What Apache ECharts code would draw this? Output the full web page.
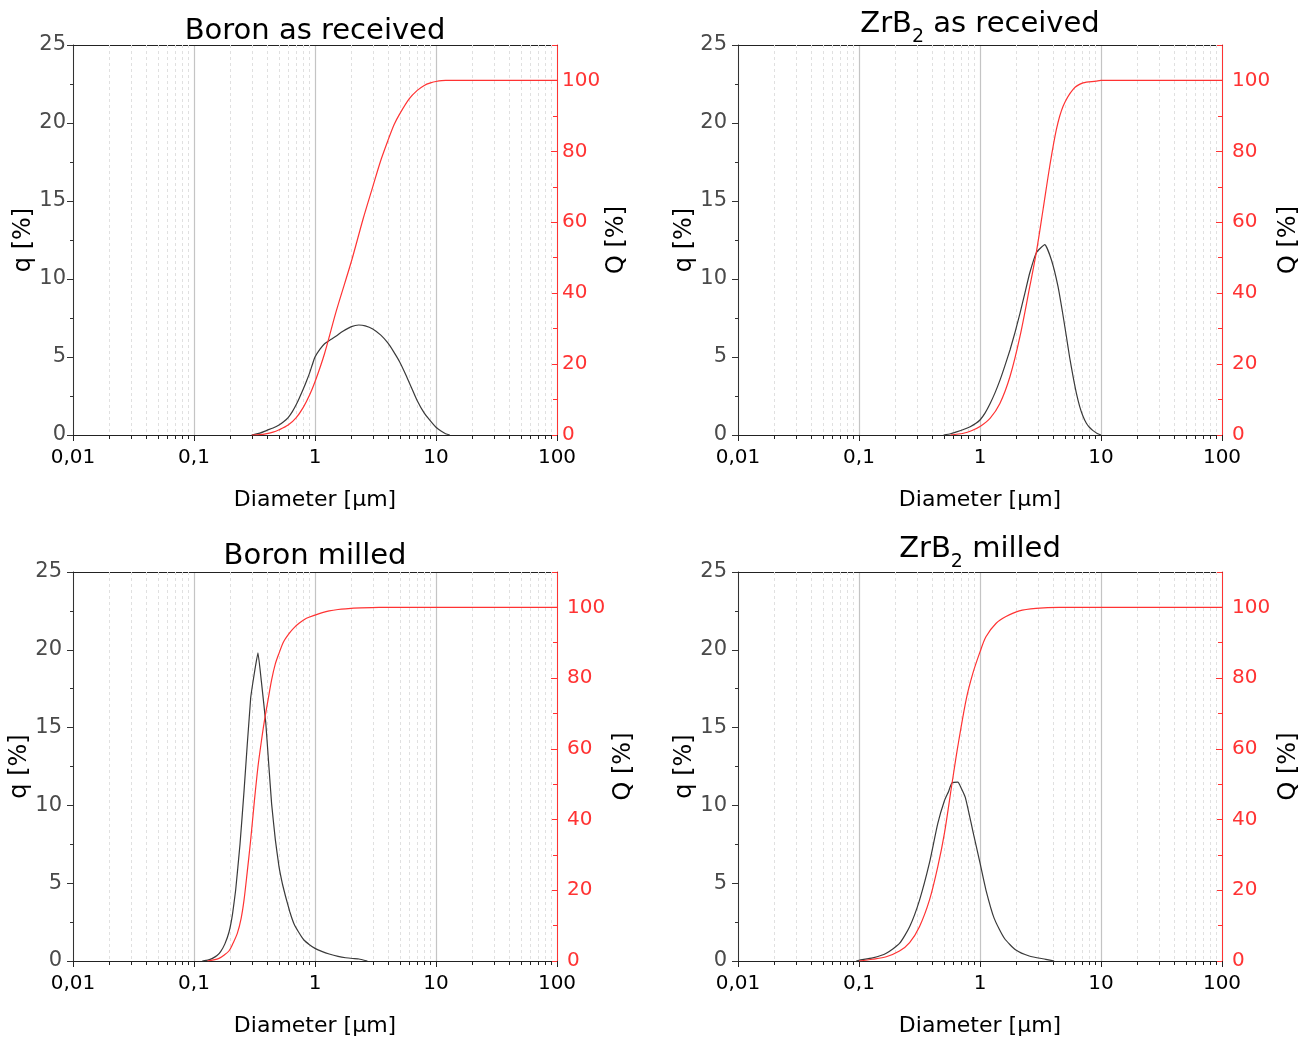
<!DOCTYPE html>
<html>
<head>
<meta charset="utf-8">
<script src="https://cdn.jsdelivr.net/npm/echarts@6/dist/echarts.min.js"></script>
<style>
html,body{margin:0;padding:0;background:#fff;}
#chart{width:1304px;height:1040px;}
</style>
</head>
<body>
<div id="chart"></div>
<script>
// ---------- data ----------
const xTickLabels = ['0,01', '0,1', '1', '10', '100'];
const minorTickValues = [0.02,0.03,0.04,0.05,0.06,0.07,0.08,0.09,
  0.2,0.3,0.4,0.5,0.6,0.7,0.8,0.9, 2,3,4,5,6,7,8,9, 20,30,40,50,60,70,80,90];

const titles = ['Boron as received', '{m|ZrB}{s|2}{m| as received}', 'Boron milled', '{m|ZrB}{s|2}{m| milled}'];

// Boron as received
const diamQd1 = [0.3,0.35,0.4,0.45,0.5,0.55,0.6,0.65,0.7,0.75,0.8,0.85,0.9,0.95,1.0,1.1,1.2,1.35,1.5,1.7,2.0,2.3,2.6,3.0,3.5,4.0,4.5,5.0,5.6,6.3,7.0,8.0,9.0,10,11,12,13];
const q1      = [0,0.12,0.3,0.45,0.62,0.85,1.12,1.5,1.95,2.45,2.95,3.45,3.95,4.5,5.0,5.5,5.85,6.12,6.35,6.65,6.95,7.05,7.0,6.8,6.4,5.9,5.3,4.7,3.9,3.0,2.2,1.4,0.9,0.5,0.25,0.08,0];
const diamQ1  = [0.3,0.35,0.4,0.45,0.5,0.6,0.7,0.8,0.9,1.0,1.2,1.5,2.0,2.5,3.0,3.5,4.0,4.5,5.0,6.0,7.0,8.0,9.0,10,12,15,100];
const Q1      = [0,0.1,0.4,0.8,1.4,2.8,4.9,7.8,11.2,15,23,35,49,61,70,77.5,83,87.5,90.5,94.8,97.2,98.6,99.3,99.7,100,100,100];

// ZrB2 as received
const diamQd2 = [0.5,0.57,0.64,0.73,0.83,0.92,1.0,1.1,1.21,1.33,1.46,1.6,1.77,1.95,2.14,2.35,2.58,2.93,3.43,3.9,4.42,4.8,5.18,5.5,5.88,6.25,6.67,7.1,7.57,8.05,8.59,9.3,10];
const q2      = [0,0.08,0.2,0.35,0.53,0.73,0.96,1.4,2.0,2.7,3.5,4.4,5.45,6.6,7.8,9.1,10.4,11.7,12.2,11.2,9.5,7.9,6.3,5.0,3.74,2.7,1.82,1.2,0.75,0.48,0.28,0.1,0];
const diamQ2  = [0.57,0.73,0.85,1.0,1.21,1.46,1.77,2.14,2.58,2.93,3.32,3.77,4.28,4.86,5.88,7.1,9.1,10,100];
const Q2      = [0,0.5,1.2,2.4,4.7,8.9,16.5,27.8,41.9,51.8,63.6,75.8,86.2,92.7,97.5,99.3,99.8,100,100];

// Boron milled
const diamQd3 = [0.117,0.13,0.142,0.155,0.166,0.18,0.195,0.208,0.221,0.24,0.259,0.294,0.338,0.36,0.392,0.415,0.438,0.47,0.504,0.54,0.572,0.62,0.67,0.74,0.81,0.9,1.0,1.15,1.31,1.55,1.79,2.05,2.31,2.71];
const q3      = [0,0.06,0.17,0.35,0.6,1.1,1.88,3.0,4.56,7.5,10.9,16.9,19.8,18.0,15.3,12.6,10.1,7.8,6.06,4.9,4.13,3.15,2.4,1.8,1.35,1.05,0.81,0.6,0.45,0.3,0.21,0.16,0.13,0];
const diamQ3  = [0.129,0.145,0.161,0.178,0.195,0.21,0.228,0.245,0.259,0.275,0.294,0.315,0.338,0.36,0.379,0.41,0.438,0.47,0.504,0.55,0.61,0.67,0.738,0.85,1.0,1.15,1.31,1.55,1.79,2.4,3.38,100];
const Q3      = [0,0.3,0.75,1.7,2.9,5.0,7.8,12,17.2,25,34.2,45,55,62,67.2,74,79.5,84,87,90.3,92.6,94.2,95.5,96.9,97.8,98.5,99,99.4,99.6,99.85,100,100];

// ZrB2 milled
const diamQd4 = [0.095,0.1,0.13,0.168,0.216,0.262,0.316,0.382,0.448,0.508,0.55,0.587,0.655,0.7,0.757,0.87,1.0,1.12,1.31,1.59,1.98,2.55,3.5,4.1];
const q4      = [0,0.05,0.2,0.5,1.13,2.2,3.9,6.3,8.85,10.3,10.9,11.45,11.5,11.1,10.5,8.4,6.3,4.56,2.74,1.46,0.7,0.32,0.11,0];
const diamQ4  = [0.1,0.13,0.168,0.216,0.262,0.316,0.382,0.448,0.508,0.587,0.655,0.767,0.87,1.0,1.12,1.36,1.64,2.11,2.9,4.5,100];
const Q4      = [0,0.5,1.2,2.8,5.2,9.7,17.2,26.7,36.1,50.2,60.6,73.8,81.2,87.4,91.7,95.5,97.4,99,99.7,100,100];

// ---------- layout ----------
const FONT = 'DejaVu Sans';
const RED = '#ff3333';
const panels = [
  {left: 73,  top: 45,  height: 390, title: titles[0], tTop: 17,  d: diamQd1, q: q1, dQ: diamQ1, Q: Q1, sq: 0.3,  lm: 7,  rm: 5,  ng: 25, rg: 48},
  {left: 738, top: 45,  height: 390, title: titles[1], tTop: 5,   d: diamQd2, q: q2, dQ: diamQ2, Q: Q2, sq: 0.15, lm: 11, rm: 10, ng: 40, rg: 55},
  {left: 73,  top: 572, height: 389, title: titles[2], tTop: 542, d: diamQd3, q: q3, dQ: diamQ3, Q: Q3, sq: 0.1,  lm: 11, rm: 10, ng: 37, rg: 55},
  {left: 738, top: 572, height: 389, title: titles[3], tTop: 530, d: diamQd4, q: q4, dQ: diamQ4, Q: Q4, sq: 0.2,  lm: 11, rm: 10, ng: 40, rg: 55}
];
const PW = 484;

function fmtX(v) {
  const k = Math.round(Math.log10(v)) + 2;
  return xTickLabels[k] !== undefined ? xTickLabels[k] : '';
}
const pairs = (xs, ys) => xs.map((x, i) => [x, ys[i]]);

const option = {
  animation: false,
  backgroundColor: '#fff',
  title: [], grid: [], xAxis: [], yAxis: [], series: []
};

panels.forEach((p, i) => {
  option.title.push({
    text: p.title, left: p.left + PW / 2, top: p.tTop, textAlign: 'center', padding: 0,
    textStyle: {
      fontFamily: FONT, fontSize: 29, fontWeight: 'normal', color: '#000',
      rich: {
        m: {fontFamily: FONT, fontSize: 29, color: '#000', lineHeight: 34, verticalAlign: 'bottom'},
        s: {fontFamily: FONT, fontSize: 19, color: '#000', lineHeight: 24, verticalAlign: 'bottom', padding: [0,0,-8,0]}
      }
    }
  });
  option.grid.push({left: p.left, top: p.top, width: PW, height: p.height, containLabel: false});
  // bottom x axis
  option.xAxis.push({
    type: 'log', logBase: 10, gridIndex: i, min: 0.01, max: 100, position: 'bottom',
    axisLine: {show: true, onZero: false, lineStyle: {color: '#222', width: 1}},
    axisTick: {show: true, length: 6, lineStyle: {color: '#222'}},
    axisLabel: {color: '#000', fontSize: 20, fontFamily: FONT, margin: 13, formatter: fmtX},
    splitLine: {show: true, lineStyle: {color: '#c4c4c4', width: 1.2}},
    name: 'Diameter [μm]', nameLocation: 'middle', nameGap: 54,
    nameTextStyle: {fontFamily: FONT, fontSize: 22, color: '#000'}
  });
  // top border axis
  option.xAxis.push({
    type: 'log', logBase: 10, gridIndex: i, min: 0.01, max: 100, position: 'top',
    axisLine: {show: true, onZero: false, lineStyle: {color: '#222', width: 1}},
    axisTick: {show: false}, axisLabel: {show: false}, splitLine: {show: false}
  });
  // left y
  option.yAxis.push({
    type: 'value', gridIndex: i, position: 'left', min: 0, max: 25, interval: 5,
    axisLine: {show: true, onZero: false, lineStyle: {color: '#333', width: 1}},
    axisTick: {show: true, length: 6, lineStyle: {color: '#333'}},
    minorTick: {show: true, splitNumber: 2, length: 3, lineStyle: {color: '#333'}},
    axisLabel: {color: '#4a4a4a', fontSize: 21, fontFamily: FONT, margin: p.lm},
    splitLine: {show: false},
    name: 'q [%]', nameLocation: 'middle', nameGap: p.ng, nameRotate: 90,
    nameTextStyle: {fontFamily: FONT, fontSize: 24, color: '#000'}
  });
  // right y
  option.yAxis.push({
    type: 'value', gridIndex: i, position: 'right', min: 0, max: 110, interval: 20,
    axisLine: {show: true, onZero: false, lineStyle: {color: RED, width: 1}},
    axisTick: {show: true, inside: true, length: 6, lineStyle: {color: RED}},
    minorTick: {show: true, splitNumber: 2, length: 4, lineStyle: {color: RED}},
    axisLabel: {color: RED, fontSize: 20, fontFamily: FONT, margin: p.rm, showMaxLabel: false},
    splitLine: {show: false},
    name: 'Q [%]', nameLocation: 'middle', nameGap: p.rg, nameRotate: 90,
    nameTextStyle: {fontFamily: FONT, fontSize: 24, color: '#000'}
  });
  // minor grid lines and minor ticks
  option.series.push({
    type: 'custom', xAxisIndex: 2 * i, yAxisIndex: 2 * i, silent: true, z: 1, clip: false,
    data: minorTickValues.map(v => [v, 0]),
    encode: {x: 0, y: 1},
    renderItem: function (params, api) {
      const pt = api.coord([api.value(0), 0]);
      const cs = params.coordSys;
      const x = Math.round(pt[0]) + 0.5;
      return {
        type: 'group',
        children: [
          {type: 'line', shape: {x1: x, y1: cs.y, x2: x, y2: cs.y + cs.height},
            style: {stroke: '#e0e0e0', lineWidth: 1, lineDash: [3, 3]}},
          {type: 'line', shape: {x1: x, y1: cs.y + cs.height, x2: x, y2: cs.y + cs.height + 4},
            style: {stroke: '#222', lineWidth: 1}}
        ]
      };
    }
  });
  option.series.push({
    type: 'line', xAxisIndex: 2 * i, yAxisIndex: 2 * i, z: 3,
    data: pairs(p.d, p.q), showSymbol: false, symbol: 'none',
    smooth: p.sq,
    lineStyle: {color: '#3a3a3a', width: 1.2}
  });
  option.series.push({
    type: 'line', xAxisIndex: 2 * i, yAxisIndex: 2 * i + 1, z: 3,
    data: pairs(p.dQ, p.Q), showSymbol: false, symbol: 'none',
    smooth: 0.3,
    lineStyle: {color: RED, width: 1.2}
  });
});

const chart = echarts.init(document.getElementById('chart'), null, {renderer: 'canvas'});
chart.setOption(option);
</script>
</body>
</html>
